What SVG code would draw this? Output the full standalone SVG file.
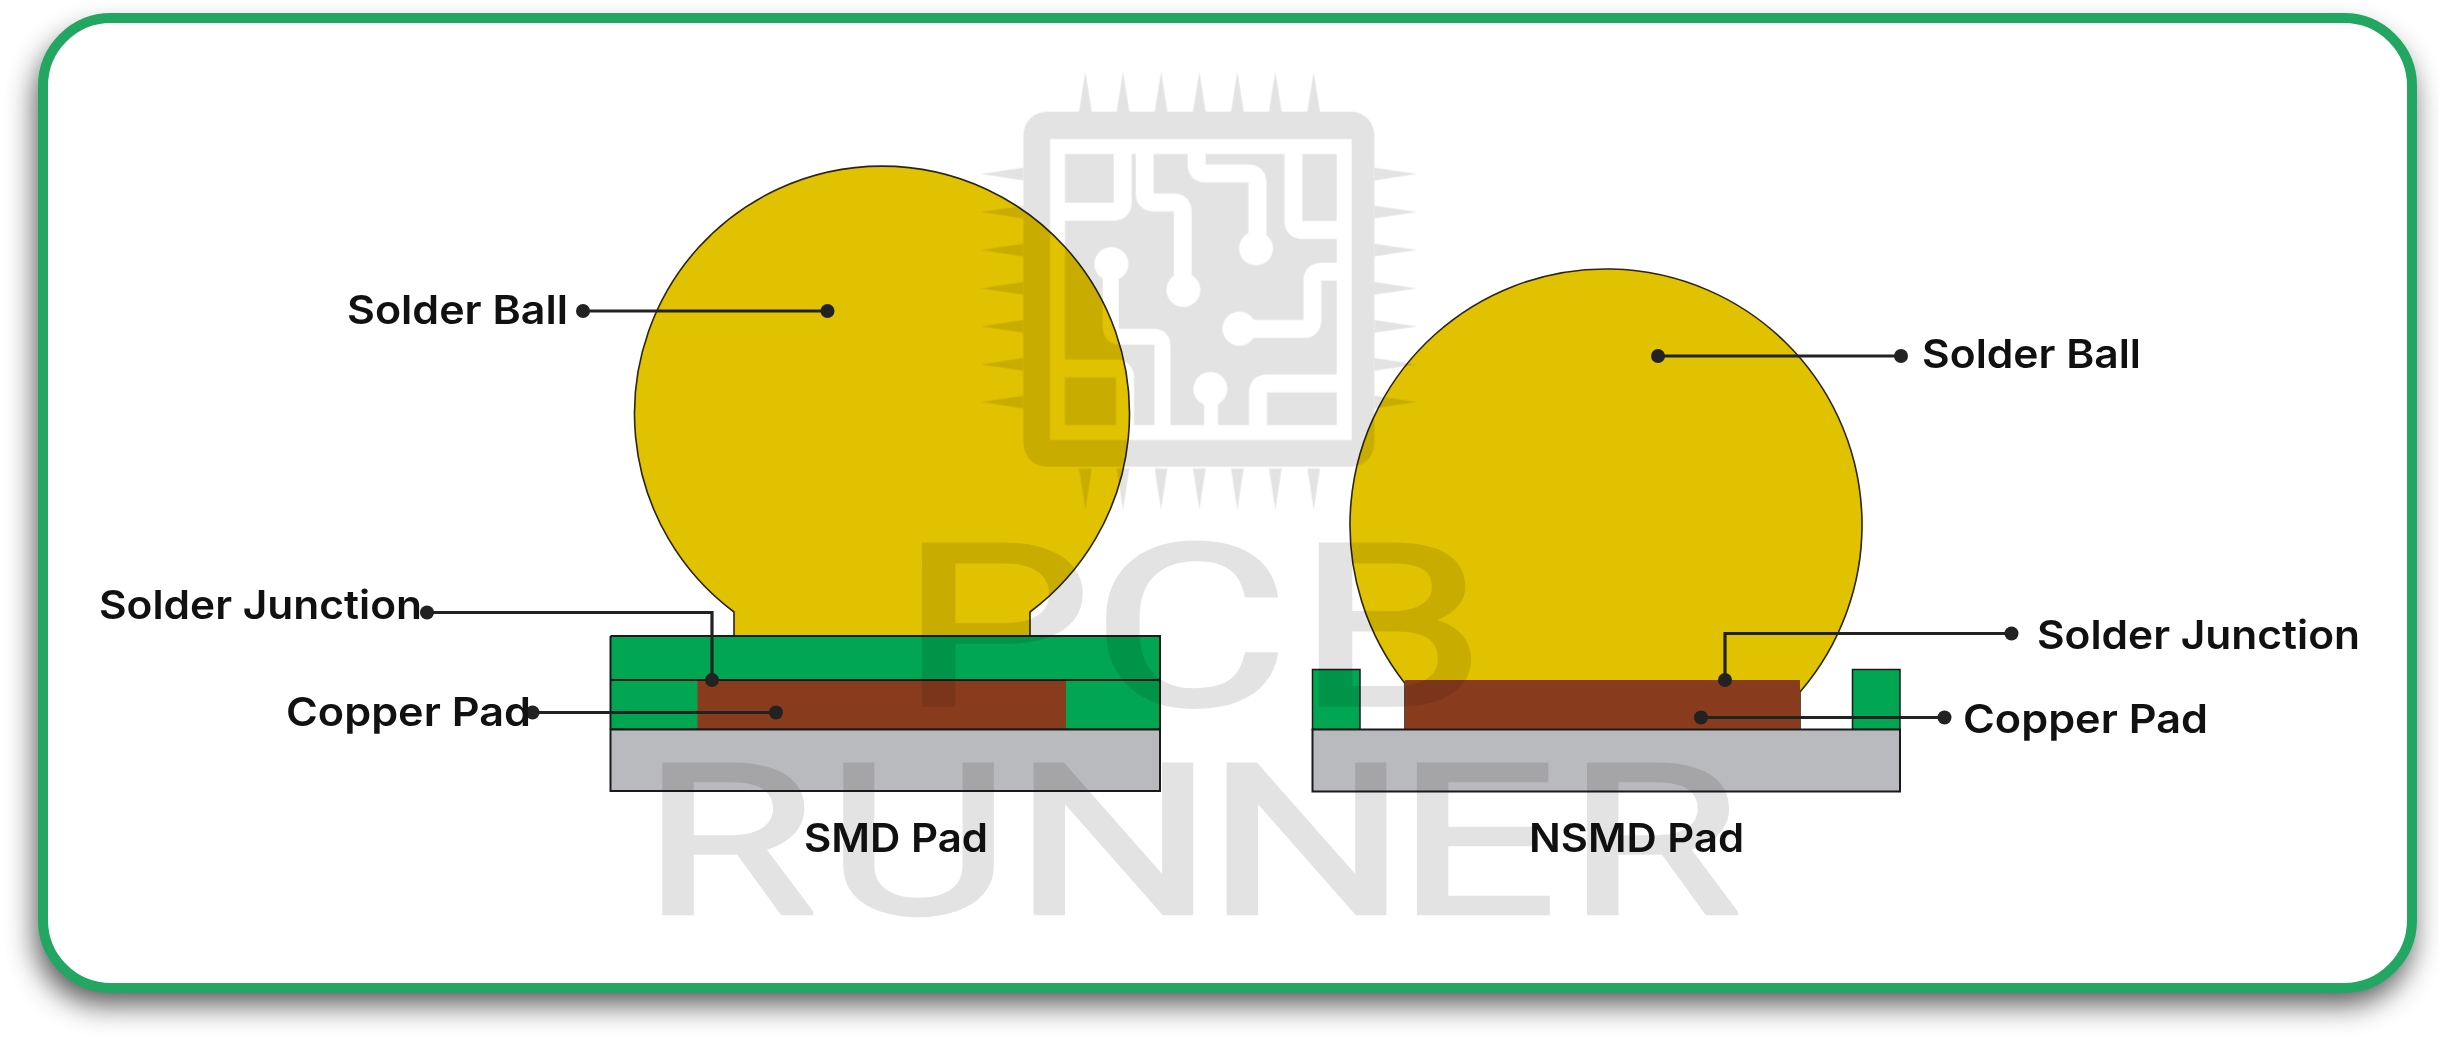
<svg xmlns="http://www.w3.org/2000/svg" width="2439" height="1041" viewBox="0 0 2439 1041">
<style>
.edge{stroke:#1a1a1a;stroke-width:2}
.ball{fill:#e1c200;stroke:#2a2410;stroke-width:1.6}
.mask{fill:#00a651}
.cu{fill:#893b1e}
.sub{fill:#b9babd}
.lbl{font-family:"Inter","Liberation Sans",sans-serif;font-weight:600;font-size:39.5px;fill:#111}
.wire{fill:none;stroke:#222;stroke-width:3.2}
.dot{fill:#222}
#watermark{mix-blend-mode:multiply}
.wmt{font-family:"Roboto","Liberation Sans",sans-serif;font-weight:400;fill:#e3e3e3;stroke:#e3e3e3;stroke-width:3.5}
.tr{fill:none;stroke:#fff;stroke-width:54}
.ph{fill:#fff}
</style>
<defs>
<filter id="sh" x="-5%" y="-10%" width="110%" height="125%">
<feGaussianBlur stdDeviation="15"/>
</filter>
</defs>
<g id="frame">
<rect x="36" y="32" width="2376" height="972" rx="68" fill="#000" opacity=".68" filter="url(#sh)"/>
<rect x="43" y="18" width="2369" height="970" rx="68" fill="#fff" stroke="#22a762" stroke-width="10"/>
</g>
<g id="smd-pad">
<path class="ball" d="M734,637V612A247.5,247.5 0 1 1 1030,612V637Z"/>
<rect class="mask" x="610.5" y="636" width="549.5" height="93.5"/>
<rect class="cu" x="697.5" y="680" width="368.5" height="49.5"/>
<path class="edge" fill="none" d="M610.5,636H1160V729.5M1160,680H610.5M610.5,636V729.5M610.5,729.5H1160"/>
<rect class="sub edge" x="610.5" y="729.5" width="549.5" height="61.5"/>
</g>
<g id="nsmd-pad">
<path class="ball" d="M1405,683.5A256,256 0 1 1 1800,692V729H1405Z"/>
<rect class="cu" x="1405" y="680" width="395" height="49.5"/>
<rect class="mask" x="1312.5" y="669.5" width="47.5" height="60" stroke="#1a1a1a" stroke-width="1.5"/>
<rect class="mask" x="1852.5" y="669.5" width="47.5" height="60" stroke="#1a1a1a" stroke-width="1.5"/>
<rect class="sub edge" x="1312.5" y="729.5" width="587.5" height="62"/>
</g>
<g id="connectors">
<path class="wire" d="M583,311H827.5"/><circle class="dot" cx="583" cy="311" r="7"/><circle class="dot" cx="827.5" cy="311" r="7"/>
<path class="wire" d="M1658,356H1901"/><circle class="dot" cx="1658" cy="356" r="7"/><circle class="dot" cx="1901" cy="356" r="7"/>
<path class="wire" d="M427,612.5H712V680"/><circle class="dot" cx="427" cy="612.5" r="7"/><circle class="dot" cx="712" cy="680" r="7"/>
<path class="wire" d="M532.5,712.5H776"/><circle class="dot" cx="532.5" cy="712.5" r="7"/><circle class="dot" cx="776" cy="712.5" r="7"/>
<path class="wire" d="M2011.5,633.5H1725V680"/><circle class="dot" cx="2011.5" cy="633.5" r="7"/><circle class="dot" cx="1725" cy="680" r="7"/>
<path class="wire" d="M1701,717.5H1944.5"/><circle class="dot" cx="1701" cy="717.5" r="7"/><circle class="dot" cx="1944.5" cy="717.5" r="7"/>
</g>
<g id="labels">
<text class="lbl" x="347" y="324" textLength="221" lengthAdjust="spacingAndGlyphs">Solder Ball</text>
<text class="lbl" x="1922" y="368" textLength="219" lengthAdjust="spacingAndGlyphs">Solder Ball</text>
<text class="lbl" x="99" y="619" textLength="323" lengthAdjust="spacingAndGlyphs">Solder Junction</text>
<text class="lbl" x="2037" y="649" textLength="323" lengthAdjust="spacingAndGlyphs">Solder Junction</text>
<text class="lbl" x="286" y="726" textLength="245" lengthAdjust="spacingAndGlyphs">Copper Pad</text>
<text class="lbl" x="1963" y="733" textLength="245" lengthAdjust="spacingAndGlyphs">Copper Pad</text>
<text class="lbl" x="804" y="851.5" textLength="184" lengthAdjust="spacingAndGlyphs">SMD Pad</text>
<text class="lbl" x="1529" y="851.5" textLength="215" lengthAdjust="spacingAndGlyphs">NSMD Pad</text>
</g>
<g id="watermark">
<g transform="translate(950,40) scale(.33333)">
<path fill="#e3e3e3" d="M387,215L406,95L425,215ZM500,215L519,95L538,215ZM614,215L633,95L652,215ZM729,215L748,95L767,215ZM843,215L862,95L881,215ZM957,215L976,95L995,215ZM1072,215L1091,95L1110,215Z"/>
<path fill="#e3e3e3" d="M387,1285L406,1410L425,1285ZM500,1285L519,1410L538,1285ZM614,1285L633,1410L652,1285ZM729,1285L748,1410L767,1285ZM843,1285L862,1410L881,1285ZM957,1285L976,1410L995,1285ZM1072,1285L1091,1410L1110,1285Z"/>
<path fill="#e3e3e3" d="M220,383L92,402L220,421ZM220,497L92,516L220,535ZM220,611L92,630L220,649ZM220,726L92,745L220,764ZM220,840L92,859L220,878ZM220,954L92,973L220,992ZM220,1067L92,1086L220,1105Z"/>
<path fill="#e3e3e3" d="M1273,383L1400,402L1273,421ZM1273,497L1400,516L1273,535ZM1273,611L1400,630L1273,649ZM1273,726L1400,745L1273,764ZM1273,840L1400,859L1273,878ZM1273,954L1400,973L1273,992ZM1273,1067L1400,1086L1273,1105Z"/>
<rect x="220" y="215" width="1053" height="1065" rx="70" fill="#e3e3e3"/>
<rect x="300" y="297" width="905" height="903" fill="#fff"/>
<rect x="345" y="342" width="815" height="813" fill="#e3e3e3"/>
<path class="tr" d="M320,515H490Q518,515 518,487V330"/>
<path class="tr" d="M584,330V460Q584,487 611,487H670Q698,487 698,515V750"/>
<path class="tr" d="M740,330V375Q740,400 765,400H895Q922,400 922,427V625"/>
<path class="tr" d="M1030,330V543Q1030,570 1058,570H1190"/>
<path class="tr" d="M1190,695H1115Q1087,695 1087,722V840Q1087,867 1060,867H868"/>
<path class="tr" d="M1190,1030H951Q924,1030 924,1057V1170"/>
<path class="tr" style="stroke-width:42px" d="M783,1047V1170"/>
<path class="tr" style="stroke-width:48px" d="M482,672V860Q482,890 512,890H610Q637,890 637,917V1170"/>
<path class="tr" d="M320,985H497Q525,985 525,1013V1170"/>
<circle class="ph" cx="700" cy="750" r="51"/>
<circle class="ph" cx="918" cy="625" r="51"/>
<circle class="ph" cx="484" cy="672" r="51"/>
<circle class="ph" cx="868" cy="866" r="51"/>
<circle class="ph" cx="781" cy="1047" r="51"/>
</g>
<text class="wmt" transform="translate(0,705) scale(1.35,1)" font-size="226" x="666 808 960">PCB</text>
<text class="wmt" transform="translate(0,913.5) scale(1.35,1)" font-size="210" x="475 612 750 893 1034 1160">RUNNER</text>
</g>
</svg>
